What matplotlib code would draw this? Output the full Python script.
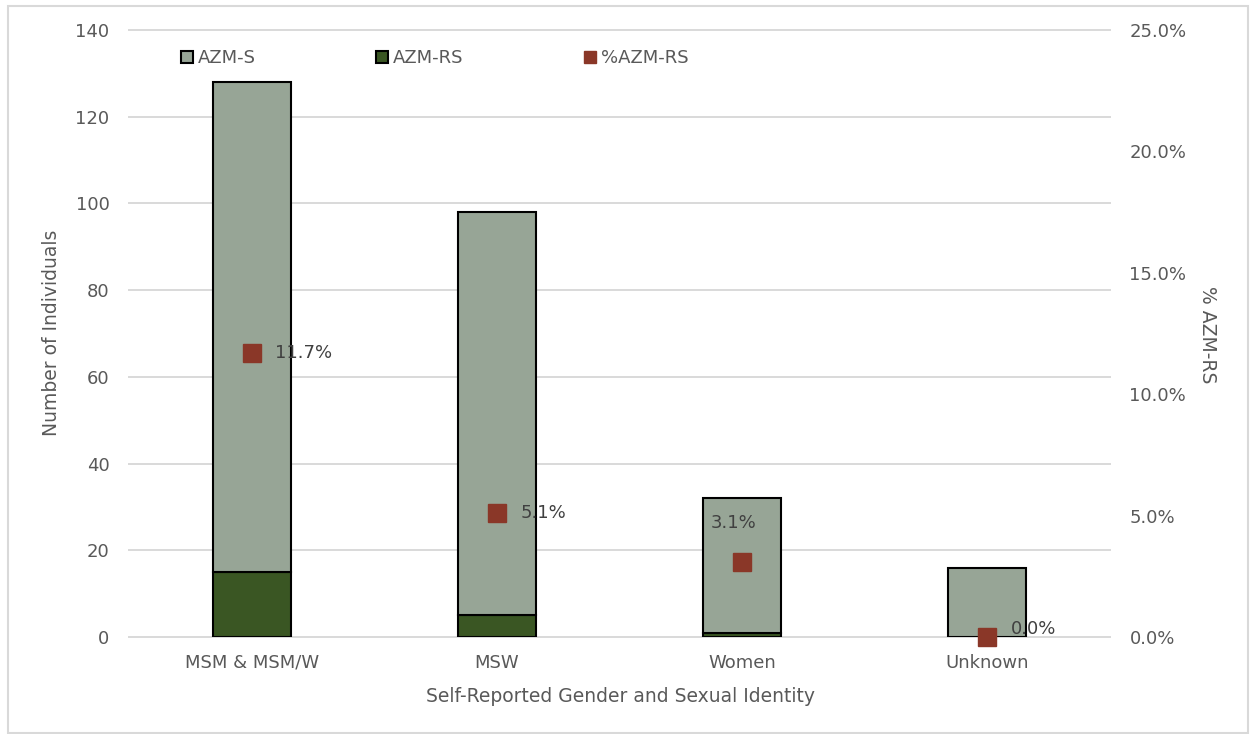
import matplotlib
matplotlib.use("Agg")
import matplotlib.pyplot as plt
from matplotlib.lines import Line2D
from matplotlib.patches import Rectangle
from matplotlib.ticker import FuncFormatter
import numpy as np

categories = ["MSM & MSM/W", "MSW", "Women", "Unknown"]
azm_rs = [15, 5, 1, 0]
azm_s = [113, 93, 31, 16]
pct_azm_rs = [11.7, 5.1, 3.1, 0.0]
left_ticks = [0, 20, 40, 60, 80, 100, 120, 140]
right_ticks = [0, 5, 10, 15, 20, 25]

C_S = "#97A596"
C_RS = "#3A5623"
C_PCT = "#8A3728"
C_TXT = "#595959"
C_LBL = "#404040"
C_GRID = "#D9D9D9"

plt.rcParams["font.family"] = ["DejaVu Sans"]
W, H = 1250, 734
fig = plt.figure(figsize=(W / 100, H / 100), dpi=100)
L, R, T, B = 129, 1110, 30, 637
ax = fig.add_axes([L / W, 1 - B / H, (R - L) / W, (B - T) / H])

x = np.arange(len(categories))
bw = 0.318
lw_rs = [1.5 if v > 0 else 0 for v in azm_rs]
ax.bar(x, azm_rs, bw, color=C_RS, edgecolor="black", linewidth=lw_rs, zorder=2)
ax.bar(x, azm_s, bw, bottom=azm_rs, color=C_S, edgecolor="black", linewidth=1.5, zorder=2)

ax.set_xlim(-0.5, len(categories) - 0.5)
ax.set_ylim(0, 140)
ax.set_yticks(left_ticks)
ax.set_xticks(x)
ax.set_xticklabels(categories)
ax.grid(axis="y", color=C_GRID, linewidth=1.4, zorder=0)
ax.set_axisbelow(True)
for gl in ax.get_ygridlines():
    gl.set_clip_on(False)
for s in ax.spines.values():
    s.set_visible(False)
ax.tick_params(axis="y", length=0, pad=14, labelsize=13, labelcolor=C_TXT)
ax.tick_params(axis="x", length=0, pad=12, labelsize=13, labelcolor=C_TXT)

ax2 = ax.twinx()
ax2.set_ylim(0, 25)
ax2.set_yticks(right_ticks)
ax2.yaxis.set_major_formatter(FuncFormatter(lambda v, p: f"{v:.1f}%"))
for s in ax2.spines.values():
    s.set_visible(False)
ax2.tick_params(axis="y", length=0, pad=14, labelsize=13, labelcolor=C_TXT)
ax2.plot(x, pct_azm_rs, linestyle="none", marker="s", markersize=13.5,
         color=C_PCT, clip_on=False, zorder=3)

offsets = [(17, 0, "left"), (17, 0, "left"), (-6, 28, "center"), (17, 6, "left")]
for xi, v, (dx, dy, ha) in zip(x, pct_azm_rs, offsets):
    ax2.annotate(f"{v:.1f}%", (xi, v), xytext=(dx, dy), textcoords="offset points",
                 ha=ha, va="center", fontsize=13, color=C_LBL, zorder=4)

fig.text(52 / W, 1 - 333 / H, "Number of Individuals", rotation=90,
         ha="center", va="center", fontsize=13.5, color=C_TXT)
fig.text(1207 / W, 1 - 335 / H, "% AZM-RS", rotation=270,
         ha="center", va="center", fontsize=13.5, color=C_TXT)
fig.text(620 / W, 1 - 697 / H, "Self-Reported Gender and Sexual Identity",
         ha="center", va="center", fontsize=13.5, color=C_TXT)

handles = [
    Line2D([], [], linestyle="none", marker="s", markersize=9, markerfacecolor=C_S,
           markeredgecolor="black", markeredgewidth=1.5),
    Line2D([], [], linestyle="none", marker="s", markersize=9, markerfacecolor=C_RS,
           markeredgecolor="black", markeredgewidth=1.5),
    Line2D([], [], linestyle="none", marker="s", markersize=9, markerfacecolor=C_PCT,
           markeredgecolor=C_PCT),
]
leg = fig.legend(handles, ["AZM-S", "AZM-RS", "%AZM-RS"], ncol=3, loc="center left",
                 bbox_to_anchor=(180 / W, 1 - 58 / H), frameon=False, fontsize=13,
                 handlelength=0.8, handletextpad=0.2, columnspacing=6.6,
                 borderpad=0, borderaxespad=0)
for t in leg.get_texts():
    t.set_color(C_TXT)

fig.patches.append(Rectangle((8 / W, 1 / H), (W - 10) / W, (H - 7) / H,
                             transform=fig.transFigure, fill=False,
                             edgecolor=C_GRID, linewidth=1.5))

fig.savefig("out.png", dpi=100)
